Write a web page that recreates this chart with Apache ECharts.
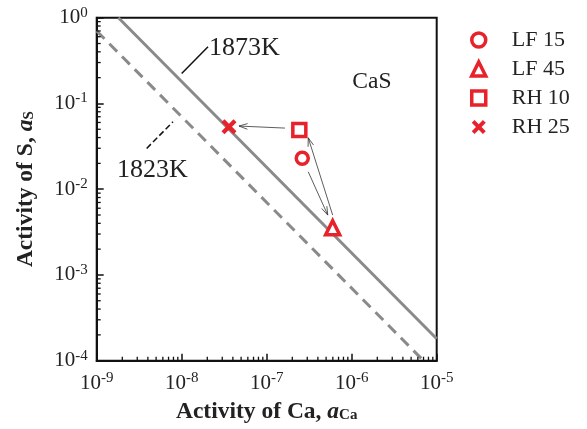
<!DOCTYPE html>
<html>
<head>
<meta charset="utf-8">
<script src="https://cdn.jsdelivr.net/npm/echarts@6/dist/echarts.min.js"></script>
<style>html,body{margin:0;padding:0;background:#fff}#c{width:587px;height:429px}</style>
</head>
<body>
<div id="c"></div>
<script>
// ---- data ----
const xRange = [1e-9, 1e-5];
const yRange = [1e-4, 1];
const legendNames = ['LF 15', 'LF 45', 'RH 10', 'RH 25'];
const lf15 = [[2.62e-7, 0.0229]];
const lf45 = [[5.97e-7, 0.00355]];
const rh10 = [[2.42e-7, 0.049]];
const rh25 = [[3.6e-8, 0.0535]];
const line1873 = [[1.8e-9, 1.0], [1e-5, 1.8e-4]];
const line1823 = [[1e-9, 0.7], [7e-6, 1e-4]];
// arrows: [x1, y1, x2, y2] (head at x2,y2)
const arrows = [
  [1.64e-7, 0.0516, 4.72e-8, 0.0545],
  [3.08e-7, 0.01596, 5.23e-7, 0.00499],
  [5.97e-7, 0.00499, 3.08e-7, 0.0398]
];
// leader lines: [x1, y1, x2, y2, dashed]
const leaders = [
  [1.0e-8, 0.224, 2.04e-8, 0.459, 0],
  [3.87e-9, 0.0299, 7.9e-9, 0.0611, 1]
];
const annotTexts = ['1873K', '1823K', 'CaS'];
const annotPos = [[2.1e-8, 0.44], [1.73e-9, 0.0167], [1.73e-6, 0.18]];
const minorX = [2e-9,3e-9,4e-9,5e-9,6e-9,7e-9,8e-9,9e-9,
  2e-8,3e-8,4e-8,5e-8,6e-8,7e-8,8e-8,9e-8,
  2e-7,3e-7,4e-7,5e-7,6e-7,7e-7,8e-7,9e-7,
  2e-6,3e-6,4e-6,5e-6,6e-6,7e-6,8e-6,9e-6];
const minorY = [2e-4,3e-4,4e-4,5e-4,6e-4,7e-4,8e-4,9e-4,
  2e-3,3e-3,4e-3,5e-3,6e-3,7e-3,8e-3,9e-3,
  0.02,0.03,0.04,0.05,0.06,0.07,0.08,0.09,
  0.2,0.3,0.4,0.5,0.6,0.7,0.8,0.9];

// ---- styles ----
const SERIF = 'Liberation Serif';
const RED = '#e8222a';
const GRAY = '#8a8a8a';
const XPATH = 'path://M0,2 L2,0 L5,3 L8,0 L10,2 L7,5 L10,8 L8,10 L5,7 L2,10 L0,8 L3,5 Z';

function expLabel(v) {
  const e = Math.round(Math.log10(v));
  return '{b|10}{s|' + e + '}';
}
const labelRich = {
  b: {fontFamily: SERIF, fontSize: 21, color: '#222'},
  s: {fontFamily: SERIF, fontSize: 15, color: '#222', padding: [0, 0, 10, 0]}
};
const titleRich = {
  t: {fontFamily: SERIF, fontWeight: 'bold', fontSize: 23.5, color: '#222'},
  i: {fontFamily: SERIF, fontWeight: 'bold', fontStyle: 'italic', fontSize: 23.5, color: '#222'},
  u: {fontFamily: SERIF, fontWeight: 'bold', fontSize: 15, color: '#222', padding: [0, 0, -7, 0]}
};

const chart = echarts.init(document.getElementById('c'), null, {renderer: 'canvas'});

function markerSeries(name, data, symbol, size, filled) {
  return {
    name: name, type: 'scatter', data: data, symbol: symbol, symbolSize: size, z: 5,
    itemStyle: filled ? {color: RED, borderWidth: 0, opacity: 1}
                      : {color: '#fff', borderColor: RED, borderWidth: 3.5, opacity: 1}
  };
}

const option = {
  animation: false,
  grid: {left: 96.7, right: 150.3, top: 17.7, bottom: 68.3, show: true,
         borderColor: '#111', borderWidth: 2, backgroundColor: 'transparent'},
  legend: {
    data: legendNames, orient: 'vertical', left: 465, top: 24,
    itemWidth: 14, itemHeight: 14, itemGap: 7,
    itemStyle: {borderWidth: 3.5},
    textStyle: {fontFamily: SERIF, fontSize: 22, color: '#222', padding: [0, 0, 0, 21]}
  },
  xAxis: {
    type: 'log', logBase: 10, min: xRange[0], max: xRange[1],
    name: '{t|Activity of Ca, }{i|a}{u|Ca}', nameLocation: 'middle', nameGap: 39,
    nameTextStyle: {rich: titleRich},
    axisLine: {lineStyle: {color: '#111', width: 2}},
    axisTick: {inside: true, length: 7, lineStyle: {color: '#111', width: 1.5}},
    splitLine: {show: false},
    axisLabel: {formatter: expLabel, rich: labelRich, margin: 10}
  },
  yAxis: {
    type: 'log', logBase: 10, min: yRange[0], max: yRange[1],
    name: '{t|Activity of S, }{i|a}{u|S}', nameLocation: 'middle', nameGap: 59, nameRotate: 90,
    nameTextStyle: {rich: titleRich},
    axisLine: {lineStyle: {color: '#111', width: 2}},
    axisTick: {inside: true, length: 7, lineStyle: {color: '#111', width: 1.5}},
    splitLine: {show: false},
    axisLabel: {formatter: expLabel, rich: labelRich, margin: 9}
  },
  series: [
    {type: 'line', data: line1873, symbol: 'none', z: 2,
     lineStyle: {color: GRAY, width: 3}},
    {type: 'line', data: line1823, symbol: 'none', z: 2,
     lineStyle: {color: GRAY, width: 3, type: [11, 7]}},
    {type: 'custom', z: 3, silent: true, data: minorX.map(v => [v, yRange[0]]),
     renderItem: function (params, api) {
       const p = api.coord([api.value(0), api.value(1)]);
       return {type: 'line', shape: {x1: p[0], y1: p[1], x2: p[0], y2: p[1] - 4},
               style: {stroke: '#111', lineWidth: 1.3}};
     }},
    {type: 'custom', z: 3, silent: true, data: minorY.map(v => [xRange[0], v]),
     renderItem: function (params, api) {
       const p = api.coord([api.value(0), api.value(1)]);
       return {type: 'line', shape: {x1: p[0], y1: p[1], x2: p[0] + 4, y2: p[1]},
               style: {stroke: '#111', lineWidth: 1.3}};
     }},
    {type: 'custom', z: 4, silent: true, data: arrows,
     encode: {x: [0, 2], y: [1, 3]},
     renderItem: function (params, api) {
       const a = api.coord([api.value(0), api.value(1)]);
       const b = api.coord([api.value(2), api.value(3)]);
       const ang = Math.atan2(b[1] - a[1], b[0] - a[0]);
       const L = 9, w = 0.32;
       const h1 = [b[0] - L * Math.cos(ang - w), b[1] - L * Math.sin(ang - w)];
       const h2 = [b[0] - L * Math.cos(ang + w), b[1] - L * Math.sin(ang + w)];
       return {type: 'group', children: [
         {type: 'line', shape: {x1: a[0], y1: a[1], x2: b[0], y2: b[1]},
          style: {stroke: '#333', lineWidth: 0.8}},
         {type: 'polyline', shape: {points: [h1, b, h2]},
          style: {stroke: '#333', lineWidth: 0.8, fill: null}}
       ]};
     }},
    {type: 'custom', z: 4, silent: true, data: leaders,
     encode: {x: [0, 2], y: [1, 3]},
     renderItem: function (params, api) {
       const a = api.coord([api.value(0), api.value(1)]);
       const b = api.coord([api.value(2), api.value(3)]);
       return {type: 'line', shape: {x1: a[0], y1: a[1], x2: b[0], y2: b[1]},
               style: {stroke: '#111', lineWidth: 1.5, lineDash: api.value(4) ? [6, 3] : null}};
     }},
    {type: 'custom', z: 4, silent: true, data: annotPos,
     renderItem: function (params, api) {
       const p = api.coord([api.value(0), api.value(1)]);
       const isCaS = params.dataIndex === 2;
       return {type: 'text', x: p[0], y: p[1],
               style: {text: annotTexts[params.dataIndex], fontFamily: SERIF,
                       fontSize: isCaS ? 23.5 : 26, fill: '#222',
                       align: isCaS ? 'center' : 'left', verticalAlign: 'middle'}};
     }},
    markerSeries('LF 15', lf15, 'circle', 12, false),
    markerSeries('LF 45', lf45, 'triangle', 14, false),
    markerSeries('RH 10', rh10, 'rect', 13, false),
    markerSeries('RH 25', rh25, XPATH, 15, true)
  ]
};
chart.setOption(option);
</script>
</body>
</html>
